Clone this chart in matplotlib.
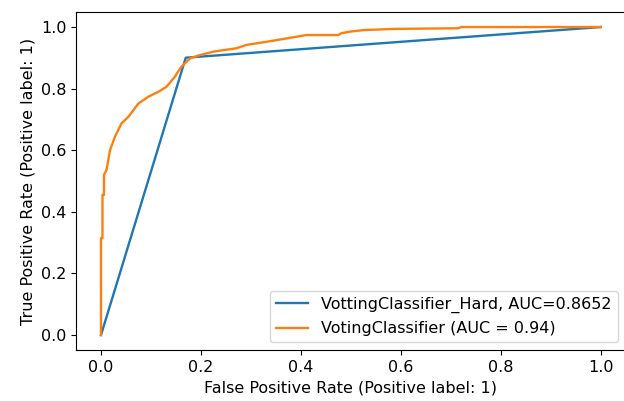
import matplotlib.pyplot as plt

# hard voting: single operating point
hard_fpr = [0.0, 0.1696, 1.0]
hard_tpr = [0.0, 0.9004, 1.0]

# soft voting ROC
soft_fpr = [0.0, 0.0, 0.003, 0.003, 0.006, 0.006, 0.011, 0.018, 0.028, 0.041,
            0.055, 0.075, 0.095, 0.115, 0.131, 0.148, 0.158, 0.161, 0.171,
            0.178, 0.198, 0.225, 0.245, 0.271, 0.291, 0.331, 0.371, 0.411,
            0.475, 0.481, 0.498, 0.525, 0.588, 0.715, 0.721, 1.0]
soft_tpr = [0.0, 0.315, 0.315, 0.455, 0.455, 0.52, 0.536, 0.600, 0.644, 0.687,
            0.709, 0.752, 0.774, 0.790, 0.806, 0.839, 0.865, 0.871, 0.887,
            0.898, 0.909, 0.920, 0.925, 0.931, 0.942, 0.952, 0.963, 0.974,
            0.974, 0.980, 0.985, 0.990, 0.994, 0.996, 1.0, 1.0]

plt.rcParams["font.size"] = 11.5

fig = plt.figure(figsize=(6.24, 4.01), dpi=100)
ax = fig.add_axes([0.1218, 0.126, 0.881, 0.845])

ax.plot(hard_fpr, hard_tpr, color="tab:blue", lw=1.7,
        label="VottingClassifier_Hard, AUC=0.8652")
ax.plot(soft_fpr, soft_tpr, color="tab:orange", lw=1.7,
        label="VotingClassifier (AUC = 0.94)")

ax.set_xlabel("False Positive Rate (Positive label: 1)")
ax.set_ylabel("True Positive Rate (Positive label: 1)")
ax.legend(loc="lower right")

fig.savefig("out.png")
